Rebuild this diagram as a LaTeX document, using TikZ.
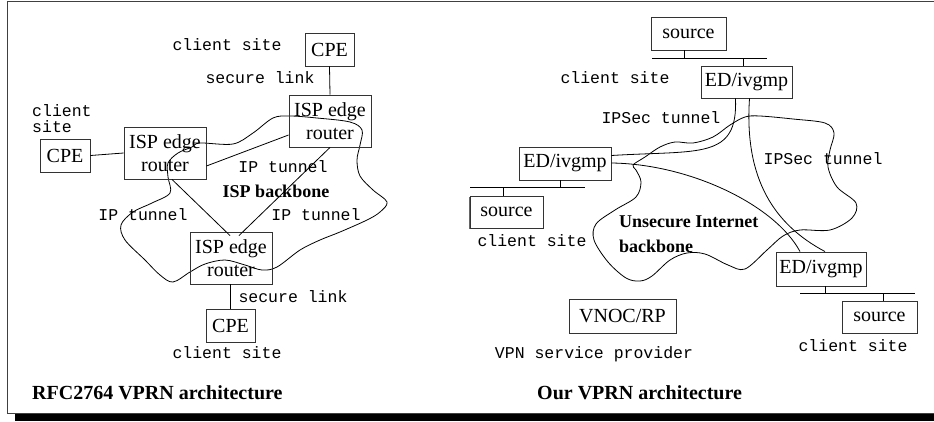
\documentclass[tikz,border=0pt]{standalone}
\usepackage{fontspec}
\setmainfont{Liberation Serif}
\setmonofont{Liberation Mono}
\newcommand\bxfont{\fontsize{20}{23}\selectfont}
\newcommand\mofont{\ttfamily\fontsize{16.5}{16}\selectfont}
\newcommand\bbfont{\bfseries\fontsize{18}{25}\selectfont}
\newcommand\ttlfont{\bfseries\fontsize{20}{24}\selectfont}
\begin{document}
\begin{tikzpicture}[x=1pt,y=-1pt,
  box/.style={draw=black!80, line width=0.9pt, inner sep=0pt, font=\bxfont, align=center},
  mono/.style={inner sep=0pt, font=\mofont, align=left},
  bbone/.style={inner sep=0pt, font=\bbfont, align=left},
  ttl/.style={inner sep=0pt, font=\ttlfont, anchor=west},
  conn/.style={line width=0.8pt},
  cloud/.style={line width=0.8pt},
  frame/.style={draw=black!75, line width=1pt}]
\useasboundingbox (0,0) rectangle (934,421);
% frame
\draw[frame] (7,413) -- (7,1) -- (934,1);
\draw[frame] (7,413) -- (934,413);
\fill[black] (15,414) rectangle (934,421);
\draw[draw=black!60, line width=0.8pt] (469,197) -- (469,229);

% ---------------- left diagram ----------------
\draw[cloud] plot[smooth cycle, tension=0.55] coordinates {
 (200,143) (233,144) (253,133) (273,118) (290,116) (317,118) (350,122) (362,130)
 (360,145) (357,160) (360,176) (373,190) (387,202) (380,212) (367,220) (340,232)
 (320,240) (300,250) (277,267) (262,270) (245,265) (225,260) (205,264) (190,272)
 (173,282) (160,275) (145,260) (125,240) (121,225) (133,212) (152,203) (170,193)
 (168,177) (168,163) (178,153) (192,147)};

\node[box, minimum width=49pt, minimum height=33pt] (cpeT) at (329.5,49.5) {CPE};
\node[box, minimum width=82pt, minimum height=52pt] (rT) at (330,121) {ISP edge\\router};
\node[box, minimum width=50pt, minimum height=33pt] (cpeL) at (65,155.5) {CPE};
\node[box, minimum width=82pt, minimum height=52pt] (rL) at (165,153) {ISP edge\\router};
\node[box, minimum width=82pt, minimum height=52pt] (rB) at (231,258) {ISP edge\\router};
\node[box, minimum width=49pt, minimum height=33pt] (cpeB) at (230.5,325.5) {CPE};

\node[mono] (csT) at (227,45) {client site};
\node[mono] (slT) at (260,78) {secure link};
\node[mono, anchor=west] (csL) at (32,119) {client\\site};
\node[mono] (tunM) at (283,167) {IP tunnel};
\node[bbone] (bbL) at (276,191) {ISP backbone};
\node[mono] (tunL) at (143,215) {IP tunnel};
\node[mono] (tunR) at (316,215) {IP tunnel};
\node[mono] (slB) at (293,297) {secure link};
\node[mono] (csB) at (227,353) {client site};
\node[ttl] (ttlL) at (32,393) {RFC2764 VPRN architecture};

\draw[conn] (cpeT.south) -- (rT.north);
\draw[conn] (cpeL.east) -- (rL.west);
\draw[conn] ([yshift=-13pt]rL.east) -- ([yshift=-14pt]rT.west);
\draw[conn] (rT.south) -- ([xshift=8pt,yshift=-4pt]rB.north);
\draw[conn] ([xshift=7pt]rL.south) -- ([xshift=-1pt,yshift=-4pt]rB.north);
\draw[conn] ([xshift=-1pt]rB.south) -- ([xshift=-0.5pt]cpeB.north);

% ---------------- right diagram ----------------
\draw[cloud] plot[smooth cycle, tension=0.55] coordinates {
 (633,165) (645,157) (660,147) (675,142) (693,143) (713,137) (730,125) (745,117)
 (760,116) (793,119) (825,123) (834,133) (830,150) (828,167) (837,187) (856,203)
 (852,218) (830,230) (800,230) (783,236) (767,250) (745,269) (728,265) (705,254)
 (687,253) (670,260) (652,276) (640,281) (626,278) (608,262) (594,240) (596,224)
 (615,210) (636,197) (641,182) (636,170)};

\node[box, minimum width=75pt, minimum height=33pt] (srcT) at (688.5,33.5) {source};
\node[box, minimum width=91pt, minimum height=32pt] (edT) at (746.5,82) {ED/ivgmp};
\node[box, minimum width=92pt, minimum height=33pt] (edL) at (565,163.5) {ED/ivgmp};
\node[box, minimum width=73pt, minimum height=32pt] (srcL) at (506.5,212) {source};
\node[box, minimum width=90pt, minimum height=34pt] (edR) at (821,269) {ED/ivgmp};
\node[box, minimum width=75pt, minimum height=32pt] (srcR) at (879.5,317) {source};
\node[box, minimum width=107pt, minimum height=34pt] (vnoc) at (622.5,316) {VNOC/RP};

\node[mono] (csRT) at (615,78) {client site};
\node[mono] (ipsU) at (661,118) {IPSec tunnel};
\node[mono] (ipsR) at (823,159) {IPSec tunnel};
\node[mono] (csRL) at (532,241) {client site};
\node[bbone, anchor=west] (bbR) at (619,234.5) {Unsecure Internet\\backbone};
\node[mono] (csRR) at (853,346) {client site};
\node[mono] (vsp) at (594,354) {VPN service provider};
\node[ttl] (ttlR) at (537,393) {Our VPRN architecture};

% buses
\coordinate (busAl) at (652,58); \coordinate (busAr) at (767,58);
\coordinate (tapA1) at (684,58); \coordinate (tapA2) at (743,58);
\draw[conn] (busAl) -- (busAr);
\draw[conn] (srcT.south -| tapA1) -- (tapA1);
\draw[conn] (tapA2) -- (tapA2 |- edT.north);

\coordinate (busBl) at (470,187); \coordinate (busBr) at (585,187);
\coordinate (tapB1) at (560,187); \coordinate (tapB2) at (503,187);
\draw[conn] (busBl) -- (busBr);
\draw[conn] (edL.south -| tapB1) -- (tapB1);
\draw[conn] (tapB2) -- (tapB2 |- srcL.north);

\coordinate (busCl) at (800,293); \coordinate (busCr) at (915,293);
\coordinate (tapC1) at (825,293); \coordinate (tapC2) at (883,293);
\draw[conn] (busCl) -- (busCr);
\draw[conn] (edR.south -| tapC1) -- (tapC1);
\draw[conn] (tapC2) -- (tapC2 |- srcR.north);

% tunnels
\draw[conn] ([xshift=-11pt]edT.south) .. controls (738,160) and (700,150) .. ([yshift=8pt]edL.east);
\draw[conn] ([xshift=3pt]edT.south) .. controls (744,180) and (775,225) .. ([xshift=4pt]edR.north);
\draw[conn] ([yshift=0.5pt]edL.east) .. controls (690,164) and (775,205) .. ([xshift=-21pt]edR.north);
\end{tikzpicture}
\end{document}
